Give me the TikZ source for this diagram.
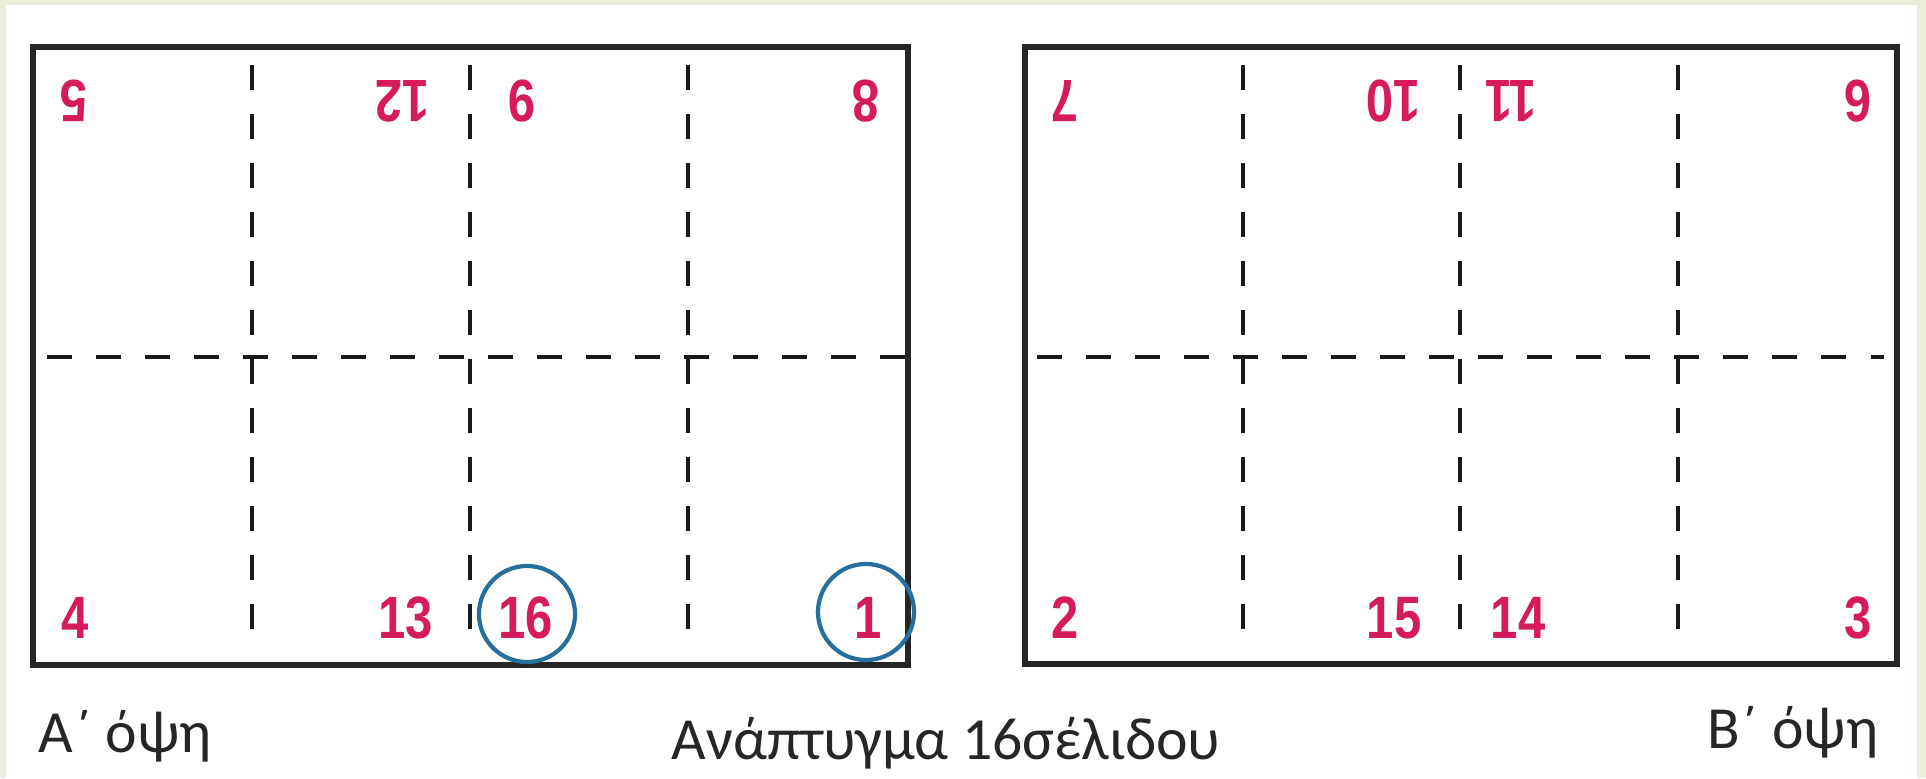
\documentclass[tikz,border=0pt]{standalone}
\usepackage{fontspec}
\setmainfont{Carlito}
\newfontfamily\pagenumfont[FakeStretch=0.82]{Liberation Sans}
\usepackage{xcolor}
\definecolor{pgred}{RGB}{214,28,88}
\definecolor{ringblue}{RGB}{38,110,156}
\definecolor{framegreen}{RGB}{232,238,218}

\begin{document}
\begin{tikzpicture}[x=0.01cm,y=-0.01cm,
  sheet/.style={draw=black!85,line width=1.6pt},
  fold/.style={draw=black!90,line width=1.3pt,dash pattern=on 0.25cm off 0.24cm},
  pg/.style={text=pgred,font=\pagenumfont\bfseries\fontsize{17}{17}\selectfont,inner sep=0pt},
  pgflip/.style={pg,rotate=180},
  ring/.style={draw=ringblue,line width=1.2pt,circle,minimum size=0.96cm,inner sep=0pt},
  lbl/.style={text=black!85,font=\fontsize{17}{20}\selectfont,inner sep=0pt}]
\useasboundingbox (0,0) rectangle (1926,778);
\fill[framegreen] (0,0) rectangle (1926,778);
\fill[white] (6,5) rectangle (1917,778);
% the two faces of the sheet
\draw[sheet] (33,47) rectangle (908,665);
\draw[sheet] (1025,47) rectangle (1897,664);
\draw[fold] (47,357) -- (905,357);
\foreach \x in {252,470,688} \draw[fold] (\x,65) -- (\x,629);
\draw[fold] (1037,357) -- (1884,357);
\foreach \x in {1243,1460,1678} \draw[fold] (\x,65) -- (\x,629);
% face A
\node[pgflip] (p5) at (74,101) {5};
\node[pgflip] (p12) at (402,101) {12};
\node[pgflip] (p9) at (522,101) {9};
\node[pgflip] (p8) at (866,101) {8};
\node[pg] (p4) at (75,618) {4};
\node[pg] (p13) at (406,618) {13};
\node[pg] (p16) at (526,618) {16};
\node[pg] (p1) at (868,618) {1};
\node[ring] (c16) at (527,614) {};
\node[ring] (c1) at (866,612) {};
% face B
\node[pgflip] (p7) at (1065,101) {7};
\node[pgflip] (p10) at (1393,101) {10};
\node[pgflip] (p11) at (1511,101) {11};
\node[pgflip] (p6) at (1858,101) {6};
\node[pg] (p2) at (1065,618) {2};
\node[pg] (p15) at (1394,618) {15};
\node[pg] (p14) at (1518,618) {14};
\node[pg] (p3) at (1858,618) {3};
% captions
\node[lbl,anchor=base west] (faceA) at (38,752) {Α΄ όψη};
\node[lbl,anchor=base] (title) at (946,759) {Ανάπτυγμα 16σέλιδου};
\node[lbl,anchor=base east] (faceB) at (1879,748) {Β΄ όψη};
\end{tikzpicture}
\end{document}
